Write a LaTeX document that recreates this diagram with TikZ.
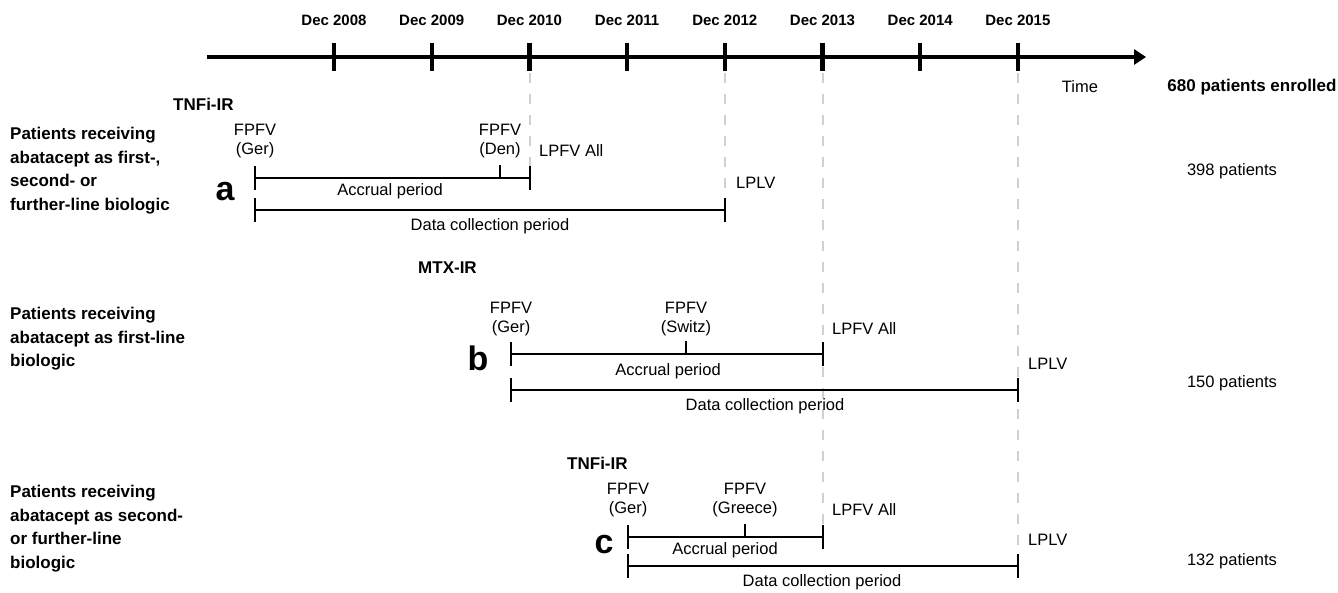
\documentclass[tikz,border=0pt]{standalone}
\usepackage{fontspec}
\setmainfont{Liberation Sans}
\usetikzlibrary{arrows.meta}
\definecolor{G1}{RGB}{208,208,208}
\tikzset{
  yearlbl/.style={font=\bfseries\fontsize{15}{17}\selectfont, inner sep=0pt},
  headlbl/.style={font=\bfseries\fontsize{17}{19}\selectfont, inner sep=0pt},
  grouplbl/.style={font=\bfseries\fontsize{17}{23.5}\selectfont, inner sep=0pt, align=left, anchor=north west},
  note/.style={font=\fontsize{16.5}{19.5}\selectfont, inner sep=0pt, align=center},
  bigletter/.style={font=\bfseries\fontsize{34}{34}\selectfont, inner sep=0pt},
  periodbar/.style={line width=2.4pt},
  guide/.style={G1, line width=1.6pt, dash pattern=on 10pt off 11pt}
}

\begin{document}
\begin{tikzpicture}[x=1pt,y=-1pt]
  \useasboundingbox (0,0) rectangle (1338,592);

  % dashed guides (under everything)
  \draw[guide] (530,73) -- (530,188);
  \draw[guide] (725,73) -- (725,210);
  \draw[guide] (823,73) -- (823,537);
  \draw[guide] (1018,73) -- (1018,566);

  % time axis
  \coordinate (axisL) at (207,57);
  \coordinate (axisR) at (1146,57);
  \draw[line width=4pt, -{Triangle[length=12pt,width=15pt]}] (axisL) -- (axisR);
  \foreach \yr [count=\i from 0] in {2008,...,2015} {
    \pgfmathsetmacro{\xx}{334+97.7*\i}
    \draw[line width=4.2pt] (\xx,43) -- (\xx,71);
    \node[yearlbl] (yr\yr) at (\xx,20) {Dec \yr};
  }
  \node[note] (time) at (1080,87) {Time};
  \node[headlbl] (total) at (1252,87) {680 patients enrolled};

  % (a) TNFi-IR, all lines
  \node[headlbl, anchor=west] (irA) at (173,104) {TNFi-IR};
  \node[grouplbl] (grpA) at (10,127) {Patients receiving\\abatacept as first-,\\second- or\\further-line biologic};
  \node[note] (fpA1) at (255,141) {FPFV\\(Ger)};
  \node[note] (fpA2) at (500,141) {FPFV\\(Den)};
  \node[note, anchor=west] (lpfvA) at (539,151) {LPFV All};
  \node[bigletter] (labA) at (225,192) {a};
  \draw[periodbar] (255,166) -- (255,190) (255,178) -- (530,178) (530,166) -- (530,190) (500,165) -- (500,178);
  \node[note] (accA) at (390,191) {Accrual period};
  \draw[periodbar] (255,198) -- (255,222) (255,210) -- (725,210) (725,198) -- (725,222);
  \node[note] (datA) at (490,226) {Data collection period};
  \node[note, anchor=west] (lplvA) at (736,183) {LPLV};
  \node[note] (nA) at (1232,171) {398 patients};

  % (b) MTX-IR, first line
  \node[headlbl, anchor=west] (irB) at (418,268) {MTX-IR};
  \node[grouplbl] (grpB) at (10,307) {Patients receiving\\abatacept as first-line\\biologic};
  \node[note] (fpB1) at (511,319) {FPFV\\(Ger)};
  \node[note] (fpB2) at (686,319) {FPFV\\(Switz)};
  \node[note, anchor=west] (lpfvB) at (832,329) {LPFV All};
  \node[bigletter] (labB) at (478,358) {b};
  \draw[periodbar] (511,342) -- (511,366) (511,354) -- (823,354) (823,342) -- (823,366) (686,341) -- (686,354);
  \node[note] (accB) at (668,371) {Accrual period};
  \draw[periodbar] (511,378) -- (511,402) (511,390) -- (1018,390) (1018,378) -- (1018,402);
  \node[note] (datB) at (765,406) {Data collection period};
  \node[note, anchor=west] (lplvB) at (1028,364) {LPLV};
  \node[note] (nB) at (1232,383) {150 patients};

  % (c) TNFi-IR, second or further line
  \node[headlbl, anchor=west] (irC) at (567,463) {TNFi-IR};
  \node[grouplbl] (grpC) at (10,485) {Patients receiving\\abatacept as second-\\or further-line\\biologic};
  \node[note] (fpC1) at (628,500) {FPFV\\(Ger)};
  \node[note] (fpC2) at (745,500) {FPFV\\(Greece)};
  \node[note, anchor=west] (lpfvC) at (832,510) {LPFV All};
  \node[bigletter] (labC) at (604,545) {c};
  \draw[periodbar] (628,525) -- (628,549) (628,537) -- (823,537) (823,525) -- (823,549) (745,524) -- (745,537);
  \node[note] (accC) at (725,550) {Accrual period};
  \draw[periodbar] (628,554) -- (628,578) (628,566) -- (1018,566) (1018,554) -- (1018,578);
  \node[note] (datC) at (822,582) {Data collection period};
  \node[note, anchor=west] (lplvC) at (1028,540) {LPLV};
  \node[note] (nC) at (1232,561) {132 patients};
\end{tikzpicture}
\end{document}
